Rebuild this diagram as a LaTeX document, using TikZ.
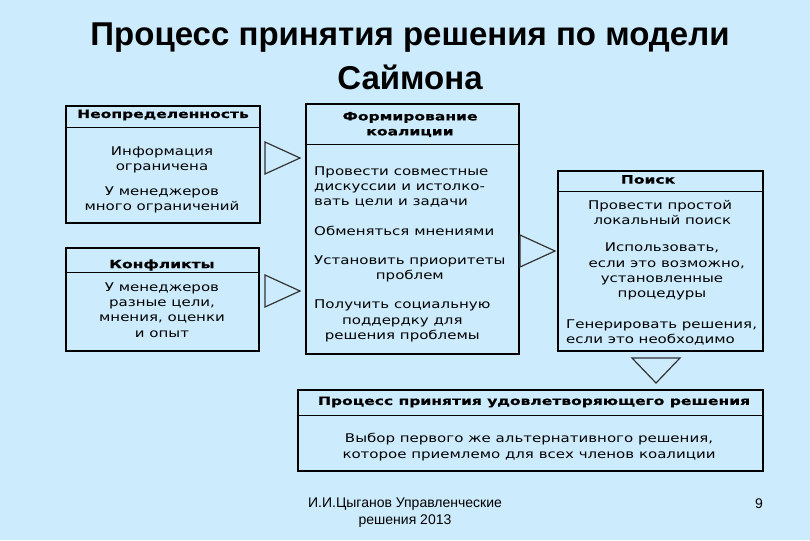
\documentclass[tikz,border=0pt]{standalone}
\usepackage{fontspec}
\setmainfont{Liberation Sans}
\newfontfamily\bxfont[FakeStretch=1.25]{DejaVu Sans}
\newfontfamily\hdfont[FakeStretch=1.35,FakeBold=0.6]{DejaVu Sans Bold}
\definecolor{bg}{RGB}{204,235,252}
\begin{document}
\begin{tikzpicture}[x=1pt,y=-1pt,
  box/.style={draw=black,line width=1.6pt,fill=bg,inner sep=0,anchor=north west},
  sep/.style={draw=black,line width=0.9pt},
  hdr/.style={font=\hdfont\fontsize{11.5}{15}\selectfont,inner sep=0,align=center},
  txt/.style={font=\bxfont\fontsize{12}{15.2}\selectfont,inner sep=0,align=center},
  tri/.style={draw=black!80,line width=1.2pt,line join=miter,fill=bg}]
\fill[bg] (0,0) rectangle (810,540);
\useasboundingbox (0,0) rectangle (810,540);

% title
\node[font=\bfseries\fontsize{33}{40}\selectfont,inner sep=0,anchor=base] (t1) at (410,46) {Процесс принятия решения по модели};
\node[font=\bfseries\fontsize{33}{40}\selectfont,inner sep=0,anchor=base] (t2) at (410,90) {Саймона};

% box 1
\node[box,minimum width=194pt,minimum height=117pt] (b1) at (65,105) {};
\draw[sep] ([yshift=-22pt]b1.north west) -- ([yshift=-22pt]b1.north east);
\node[hdr] (h1) at (163,115) {Неопределенность};
\node[txt] (b1a) at (162,160) {Информация\\ограничена};
\node[txt] (b1b) at (162,200) {У менеджеров\\много ограничений};

% box 2
\node[box,minimum width=193pt,minimum height=103pt] (b2) at (65,247) {};
\draw[sep] ([yshift=-25pt]b2.north west) -- ([yshift=-25pt]b2.north east);
\node[hdr] (h2) at (162,265) {Конфликты};
\node[txt] (b2a) at (162,310) {У менеджеров\\разные цели,\\мнения, оценки\\и опыт};

% box 3
\node[box,minimum width=213pt,minimum height=250pt] (b3) at (305,103) {};
\draw[sep] ([yshift=-41pt]b3.north west) -- ([yshift=-41pt]b3.north east);
\node[hdr] (h3) at (410,124.5) {Формирование\\коалиции};
\node[txt,align=left,anchor=west] (b3a) at (314,187) {Провести совместные\\дискуссии и истолко-\\вать цели и задачи};
\node[txt,anchor=west] (b3b) at (314,231) {Обменяться мнениями};
\node[txt,anchor=west] (b3c) at (314,268.5) {Установить приоритеты\\проблем};
\node[txt,anchor=west] (b3d) at (314,321) {Получить социальную\\поддердку для\\решения проблемы};

% box 4
\node[box,minimum width=205pt,minimum height=180pt] (b4) at (557,170) {};
\draw[sep] ([yshift=-21pt]b4.north west) -- ([yshift=-21pt]b4.north east);
\node[hdr] (h4) at (648,179.5) {Поиск};
\node[txt] (b4a) at (660,212.5) {Провести простой\\\ локальный поиск};
\node[txt] (b4b) at (662,271.5) {Использовать,\\\ \ если это возможно,\\установленные\\процедуры};
\node[txt,align=left,anchor=west] (b4c) at (566,332.5) {Генерировать решения,\\если это необходимо};

% box 5
\node[box,minimum width=465pt,minimum height=81pt] (b5) at (297,389) {};
\draw[sep] ([yshift=-26pt]b5.north west) -- ([yshift=-26pt]b5.north east);
\node[hdr] (h5) at (534,402) {Процесс принятия удовлетворяющего решения};
\node[txt] (b5a) at (529,447) {Выбор первого же альтернативного решения,\\которое приемлемо для всех членов коалиции};

% triangles (connectors)
\coordinate (p1) at (265,158);
\coordinate (p2) at (265,291);
\coordinate (p3) at (520,251);
\coordinate (p4) at (656,358);
\draw[tri] ([yshift=16pt]p1) -- ++(35,16) -- ++(-35,16) -- cycle;
\draw[tri] ([yshift=16pt]p2) -- ++(35,16) -- ++(-35,16) -- cycle;
\draw[tri] ([yshift=16pt]p3) -- ++(35,16) -- ++(-35,16) -- cycle;
\draw[tri] ([xshift=-24pt]p4) -- ++(48,0) -- ++(-24,25) -- cycle;

% footer
\node[font=\fontsize{14}{17}\selectfont,inner sep=0,align=center] (f1) at (405,512.5) {И.И.Цыганов Управленческие\\решения 2013};
\node[font=\fontsize{14}{17}\selectfont,inner sep=0] (pg) at (759,504) {9};
\end{tikzpicture}
\end{document}
